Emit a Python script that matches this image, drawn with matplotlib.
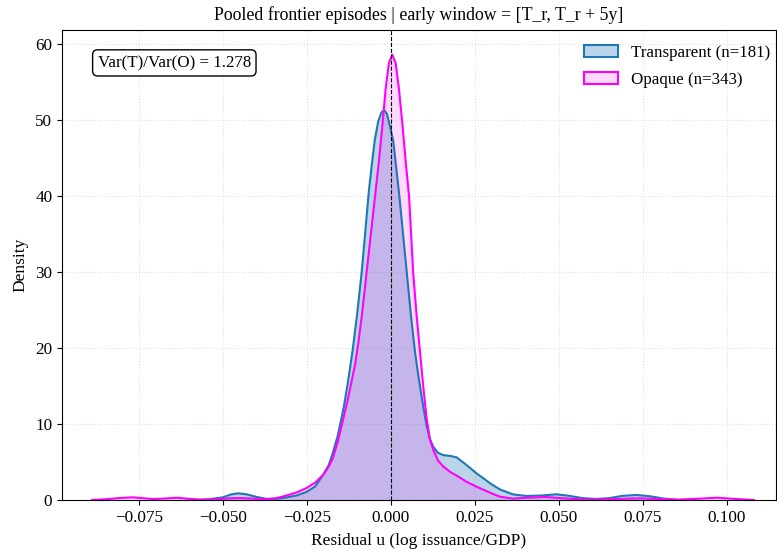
import matplotlib
matplotlib.use("Agg")
import matplotlib.pyplot as plt
from matplotlib.patches import Patch

plt.rcParams['font.family'] = ['Liberation Serif', 'DejaVu Serif']

# Densities
trans_x = [-0.060, -0.055, -0.050, -0.0475, -0.0455, -0.043, -0.040, -0.037, -0.034, -0.031,
           -0.028, -0.025, -0.0225, -0.0202, -0.0185, -0.0173, -0.0158, -0.0140, -0.0128, -0.0114,
           -0.0100, -0.0087, -0.0077, -0.0066, -0.0056, -0.0048, -0.0038, -0.0028, -0.0020, -0.0012,
           -0.0003, 0.0007, 0.0015, 0.0025, 0.0036, 0.0047, 0.0059, 0.0071, 0.0081, 0.0096,
           0.0106, 0.0116, 0.0126, 0.0140, 0.0156, 0.0176, 0.0196, 0.0225, 0.0255, 0.0295,
           0.0324, 0.0363, 0.0404, 0.045, 0.0493, 0.053, 0.057, 0.0612, 0.065, 0.069,
           0.0731, 0.077, 0.081, 0.085]
trans_y = [0.0, 0.05, 0.35, 0.75, 0.88, 0.75, 0.4, 0.15, 0.15, 0.35,
           0.6, 1.1, 1.8, 3.3, 4.6, 6.2, 8.5, 12.3, 15.5, 19.7,
           24.7, 30.0, 35.0, 40.5, 44.5, 47.4, 49.8, 51.0, 51.3, 50.8,
           49.2, 47.2, 44.0, 40.0, 35.0, 30.0, 24.5, 19.7, 16.5, 12.3,
           9.8, 8.0, 7.0, 6.2, 5.9, 5.8, 5.6, 4.6, 3.5, 2.2,
           1.4, 0.74, 0.53, 0.6, 0.75, 0.55, 0.25, 0.13, 0.25, 0.55,
           0.66, 0.5, 0.2, 0.02]

opaq_x = [-0.089, -0.085, -0.080, -0.0768, -0.073, -0.0708, -0.067, -0.0638, -0.060, -0.0568,
          -0.052, -0.048, -0.045, -0.041, -0.037, -0.034, -0.031, -0.028, -0.025, -0.0225,
          -0.0202, -0.0185, -0.0173, -0.0158, -0.0143, -0.0128, -0.0113, -0.0106, -0.0096, -0.0086,
          -0.0076, -0.0066, -0.0056, -0.0046, -0.0036, -0.0026, -0.0016, -0.0006, 0.0004, 0.0014,
          0.0024, 0.0034, 0.0044, 0.0054, 0.0060, 0.0066, 0.0076, 0.0086, 0.0096, 0.0106,
          0.0116, 0.0126, 0.0140, 0.0156, 0.0176, 0.0196, 0.0225, 0.0255, 0.0295, 0.0324,
          0.0363, 0.0404, 0.046, 0.052, 0.058, 0.066, 0.074, 0.080, 0.085, 0.091,
          0.097, 0.102, 0.108]
opaq_y = [0.0, 0.1, 0.28, 0.35, 0.2, 0.12, 0.2, 0.3, 0.15, 0.05,
          0.08, 0.22, 0.26, 0.18, 0.12, 0.25, 0.6, 1.0, 1.6, 2.3,
          3.3, 4.4, 5.5, 7.7, 10.5, 13.3, 16.5, 18.0, 21.0, 24.5,
          28.5, 32.5, 36.5, 40.5, 44.5, 49.0, 54.0, 57.5, 58.6, 57.5,
          54.0, 49.5, 44.5, 39.9, 35.0, 30.0, 24.5, 19.7, 15.0, 10.8,
          8.0, 6.6, 5.2, 4.4, 3.7, 3.2, 2.4, 1.75, 0.96, 0.44,
          0.18, 0.3, 0.4, 0.2, 0.05, 0.12, 0.22, 0.12, 0.05, 0.15,
          0.3, 0.15, 0.0]

labels = ["Transparent (n=181)", "Opaque (n=343)"]
var_ratio = 1.278

fig = plt.figure(figsize=(7.77, 5.52), dpi=100)
ax = fig.add_axes([62/777, 1-500/552, (776-62)/777, (500-30)/552])

blue = '#1f77b4'
mag = '#ff00ff'
ax.fill_between(trans_x, trans_y, color=blue, alpha=0.3, linewidth=0)
ax.plot(trans_x, trans_y, color=blue, lw=1.5)
ax.fill_between(opaq_x, opaq_y, color=mag, alpha=0.15, linewidth=0)
ax.plot(opaq_x, opaq_y, color=mag, lw=1.5)

handles = [Patch(facecolor=(31/255, 119/255, 180/255, 0.3), edgecolor=blue, lw=1.5),
           Patch(facecolor=(1, 0, 1, 0.15), edgecolor=mag, lw=1.5)]
ax.legend(handles, labels, loc='upper right', frameon=False, fontsize=12.2,
          labelspacing=0.65, borderaxespad=0.4,
          bbox_to_anchor=(1 + 8/714, 1 - 1/470))

ax.axvline(0, color='black', ls='--', lw=0.8)
ax.set_xlim(-0.0979, 0.1146)
ax.set_ylim(0, 61.84)
ax.set_xticks([-0.075, -0.05, -0.025, 0, 0.025, 0.05, 0.075, 0.1])
ax.grid(True, ls=':', color='#cccccc', alpha=0.6, lw=0.8)
ax.set_axisbelow(True)
ax.tick_params(labelsize=12.3)
ax.set_xlabel("Residual u (log issuance/GDP)", fontsize=12.5, labelpad=5)
ax.set_ylabel("Density", fontsize=12.5, labelpad=5)
ax.set_title("Pooled frontier episodes | early window = [T_r, T_r + 5y]", fontsize=12.8, pad=7)
ax.text(0.05, 0.93, f"Var(T)/Var(O) = {var_ratio:.3f}", transform=ax.transAxes,
        fontsize=12.2, va='center', ha='left',
        bbox=dict(boxstyle='round,pad=0.3', facecolor='white', edgecolor='black', lw=1))

fig.savefig("out.png", dpi=100)
